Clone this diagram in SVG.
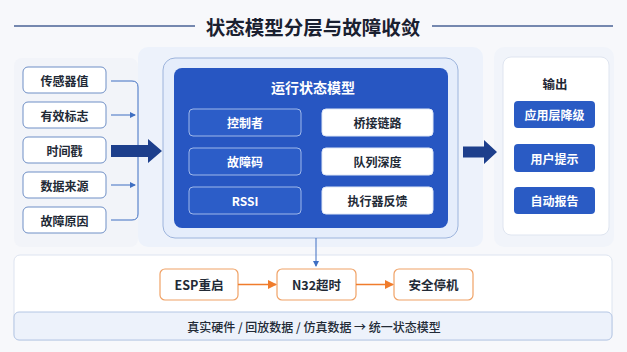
<svg xmlns="http://www.w3.org/2000/svg" width="627" height="352" viewBox="0 0 627 352">
<style>
text{font-family:"Noto Sans CJK SC","Noto Sans",sans-serif;text-anchor:middle;dominant-baseline:central}
.in rect{fill:#fff;stroke:#6f8fc6;stroke-width:1}
.in text{font-size:12px;font-weight:700;fill:#222a36}
.cl rect{fill:#2c5dc8;stroke:#9fb8ea;stroke-width:1}
.cl text{font-size:12px;font-weight:700;fill:#fff}
.cr rect{fill:#fff;stroke:#dfe7f6;stroke-width:1}
.cr text{font-size:12px;font-weight:700;fill:#222a36}
.out rect{fill:#2a5bc4}
.out text{font-size:12px;font-weight:700;fill:#fff}
.or rect{fill:#fff;stroke:#f0a266;stroke-width:1.2}
.or text{font-size:12.5px;font-weight:700;fill:#222a36}
.thin{fill:none;stroke:#3f6fc2;stroke-width:1}
.oarr{stroke:#f07c2c;stroke-width:1.6;fill:none}
</style>
<defs>
<marker id="ab" markerWidth="6" markerHeight="6" refX="5" refY="3" orient="auto" markerUnits="userSpaceOnUse"><path d="M0,0 L6,3 L0,6 z" fill="#3f6fc2"/></marker>
<marker id="ao" markerWidth="9" markerHeight="9" refX="8" refY="4.5" orient="auto" markerUnits="userSpaceOnUse"><path d="M0,0 L9,4.5 L0,9 z" fill="#f07c2c"/></marker>
</defs>
<rect width="627" height="352" fill="#f7f8fb"/>
<g id="title">
<line x1="14" y1="26" x2="195" y2="26" stroke="#4a6396" stroke-width="1.5"/>
<line x1="432" y1="26" x2="613" y2="26" stroke="#4a6396" stroke-width="1.5"/>
<text x="313" y="26" font-size="19.5" font-weight="700" fill="#1a2030">状态模型分层与故障收敛</text>
</g>
<rect x="14" y="58" width="124" height="189" rx="8" fill="#f2f4f9"/>
<rect x="138" y="47" width="345" height="200" rx="10" fill="#edf2fb"/>
<rect x="494" y="47" width="120" height="200" rx="10" fill="#f1f4fa"/>
<g id="inputs" class="in">
<g id="in1"><rect x="23" y="67" width="83" height="26" rx="5"/><text x="64.5" y="80">传感器值</text></g>
<g id="in2"><rect x="23" y="102" width="83" height="26" rx="5"/><text x="64.5" y="115">有效标志</text></g>
<g id="in3"><rect x="23" y="137" width="83" height="26" rx="5"/><text x="64.5" y="150">时间戳</text></g>
<g id="in4"><rect x="23" y="172" width="83" height="26" rx="5"/><text x="64.5" y="185">数据来源</text></g>
<g id="in5"><rect x="23" y="207" width="83" height="26" rx="5"/><text x="64.5" y="220">故障原因</text></g>
</g>
<g id="model">
<rect x="163" y="58" width="295" height="180" rx="12" fill="#e5edfb" stroke="#9db4dc" stroke-width="1"/>
<rect x="174" y="68" width="274" height="160" rx="8" fill="#2756c2"/>
<text x="313" y="87" font-size="14" font-weight="700" fill="#fff">运行状态模型</text>
<g class="cl">
<g id="m1"><rect x="189" y="109" width="112" height="27" rx="4"/><text x="245" y="122.5">控制者</text></g>
<g id="m2"><rect x="189" y="148" width="112" height="27" rx="4"/><text x="245" y="161.5">故障码</text></g>
<g id="m3"><rect x="189" y="187" width="112" height="27" rx="4"/><text x="245" y="200.5">RSSI</text></g>
</g>
<g class="cr">
<g id="m4"><rect x="322" y="109" width="111" height="27" rx="4"/><text x="377.5" y="122.5">桥接链路</text></g>
<g id="m5"><rect x="322" y="148" width="111" height="27" rx="4"/><text x="377.5" y="161.5">队列深度</text></g>
<g id="m6"><rect x="322" y="187" width="111" height="27" rx="4"/><text x="377.5" y="200.5">执行器反馈</text></g>
</g>
</g>
<g id="output">
<rect x="503" y="57" width="106" height="178" rx="8" fill="#fff" stroke="#dfe5f0" stroke-width="1"/>
<text x="555" y="83" font-size="12.5" font-weight="700" fill="#1f2633">输出</text>
<g class="out">
<g id="o1"><rect x="514" y="101" width="81" height="27" rx="4"/><text x="554.5" y="114.5">应用层降级</text></g>
<g id="o2"><rect x="514" y="144" width="81" height="28" rx="4"/><text x="554.5" y="158">用户提示</text></g>
<g id="o3"><rect x="514" y="187" width="81" height="27" rx="4"/><text x="554.5" y="200.5">自动报告</text></g>
</g>
</g>
<g id="bottom">
<rect x="14" y="255" width="598" height="85" rx="6" fill="#fff" stroke="#dde4f0" stroke-width="1"/>
<rect x="14" y="312" width="598" height="28" rx="5" fill="#edf2fb" stroke="#b4c6e4" stroke-width="1"/>
<text x="314" y="326.5" font-size="12" font-weight="500" fill="#222a36">真实硬件 / 回放数据 / 仿真数据 → 统一状态模型</text>
<g class="or">
<g id="f1"><rect x="160" y="269" width="78" height="31" rx="5"/><text x="199" y="284.5">ESP重启</text></g>
<g id="f2"><rect x="277" y="269" width="79" height="31" rx="5"/><text x="316.5" y="284.5">N32超时</text></g>
<g id="f3"><rect x="394" y="269" width="79" height="31" rx="5"/><text x="433.5" y="284.5">安全停机</text></g>
</g>
</g>
<g id="connectors">
<path class="thin" d="M111,81 H132 Q138,81 138,87 V214 Q138,220 132,220 H111"/>
<line class="thin" x1="111" y1="115" x2="135" y2="115" marker-end="url(#ab)"/>
<line class="thin" x1="111" y1="185" x2="135" y2="185" marker-end="url(#ab)"/>
<path d="M111,145 H148 V139 L162,151 L148,163 V157 H111 z" fill="#1d3f8c"/>
<path d="M463,146.5 H484 V140 L497,152 L484,164 V157.5 H463 z" fill="#1d3f8c"/>
<line class="thin" x1="316" y1="238" x2="316" y2="266" marker-end="url(#ab)"/>
<line class="oarr" x1="238" y1="284.5" x2="276" y2="284.5" marker-end="url(#ao)"/>
<line class="oarr" x1="356" y1="284.5" x2="393" y2="284.5" marker-end="url(#ao)"/>
</g>
</svg>
